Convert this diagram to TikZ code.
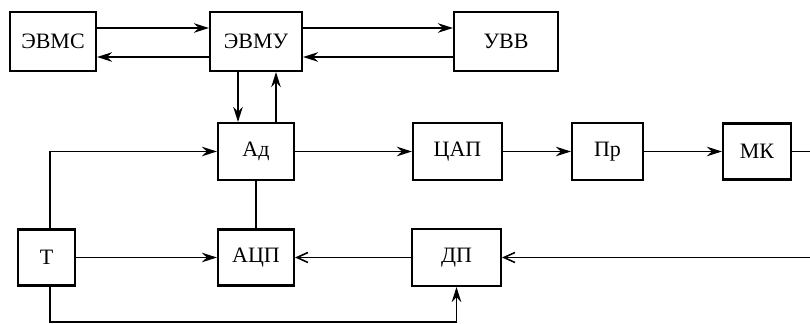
\documentclass[tikz,border=0pt]{standalone}
\usepackage{fontspec}
\setmainfont{Liberation Serif}
\usepackage{tikz}
\usetikzlibrary{arrows.meta}

\begin{document}
\begin{tikzpicture}[x=0.2mm, y=-0.2mm, line width=0.9pt,
    blk/.style={draw, line width=1.2pt, inner sep=0pt, font=\fontsize{12.5}{14}\selectfont},
    arr/.style={-{Stealth[length=3mm,width=1.9mm]}},
    barb/.style={-{Straight Barb[length=2.2mm,width=2mm]}}]
    \useasboundingbox (0,0) rectangle (810,324);
    \node[blk, minimum width=17.2mm, minimum height=11.8mm] (evms) at (53,41.5) {ЭВМС};
    \node[blk, minimum width=18.4mm, minimum height=11.8mm] (evmu) at (256,41.5) {ЭВМУ};
    \node[blk, minimum width=20.8mm, minimum height=11.8mm] (uvv) at (506,41.5) {УВВ};
    \node[blk, minimum width=15.2mm, minimum height=11.4mm] (ad) at (256,151.5) {Ад};
    \node[blk, minimum width=17.8mm, minimum height=11.4mm] (cap) at (457.5,151.5) {ЦАП};
    \node[blk, minimum width=14.2mm, minimum height=11.4mm] (pr) at (607.5,151.5) {Пр};
    \node[blk, minimum width=13.6mm, minimum height=11.2mm] (mk) at (757,151.5) {МК};
    \node[blk, minimum width=11.4mm, minimum height=11.2mm] (t) at (46.5,257.5) {Т};
    \node[blk, minimum width=15.2mm, minimum height=11.2mm] (acp) at (256,257.5) {АЦП};
    \node[blk, minimum width=17.8mm, minimum height=11.4mm] (dp) at (456.5,257.5) {ДП};
    \coordinate (mkout) at (810,151.5);
    \coordinate (dpin) at (810,257.5);
    \coordinate (bot) at (456.5,322);
    \draw[arr] ([yshift=2.7mm]evms.east) -- ([yshift=2.7mm]evmu.west);
    \draw[arr] ([yshift=-3.1mm]evmu.west) -- ([yshift=-3.1mm]evms.east);
    \draw[arr] ([yshift=2.7mm]evmu.east) -- ([yshift=2.7mm]uvv.west);
    \draw[arr] ([yshift=-3.1mm]uvv.west) -- ([yshift=-3.1mm]evmu.east);
    \draw[arr] ([xshift=-3.6mm]evmu.south) -- ([xshift=-3.6mm]ad.north);
    \draw[arr] ([xshift=4mm]ad.north) -- ([xshift=4mm]evmu.south);
    \draw[arr] ([xshift=0.7mm]t.north) |- (ad.west);
    \draw[arr] (t.east) -- (acp.west);
    \draw[arr] ([xshift=0.7mm]t.south) |- (bot) -- (dp.south);
    \draw (ad.south) -- (acp.north);
    \draw[arr] (ad.east) -- (cap.west);
    \draw[arr] (cap.east) -- (pr.west);
    \draw[arr] (pr.east) -- (mk.west);
    \draw (mk.east) -- (mkout);
    \draw[barb] (dpin) -- (dp.east);
    \draw[barb] (dp.west) -- (acp.east);
\end{tikzpicture}
\end{document}
